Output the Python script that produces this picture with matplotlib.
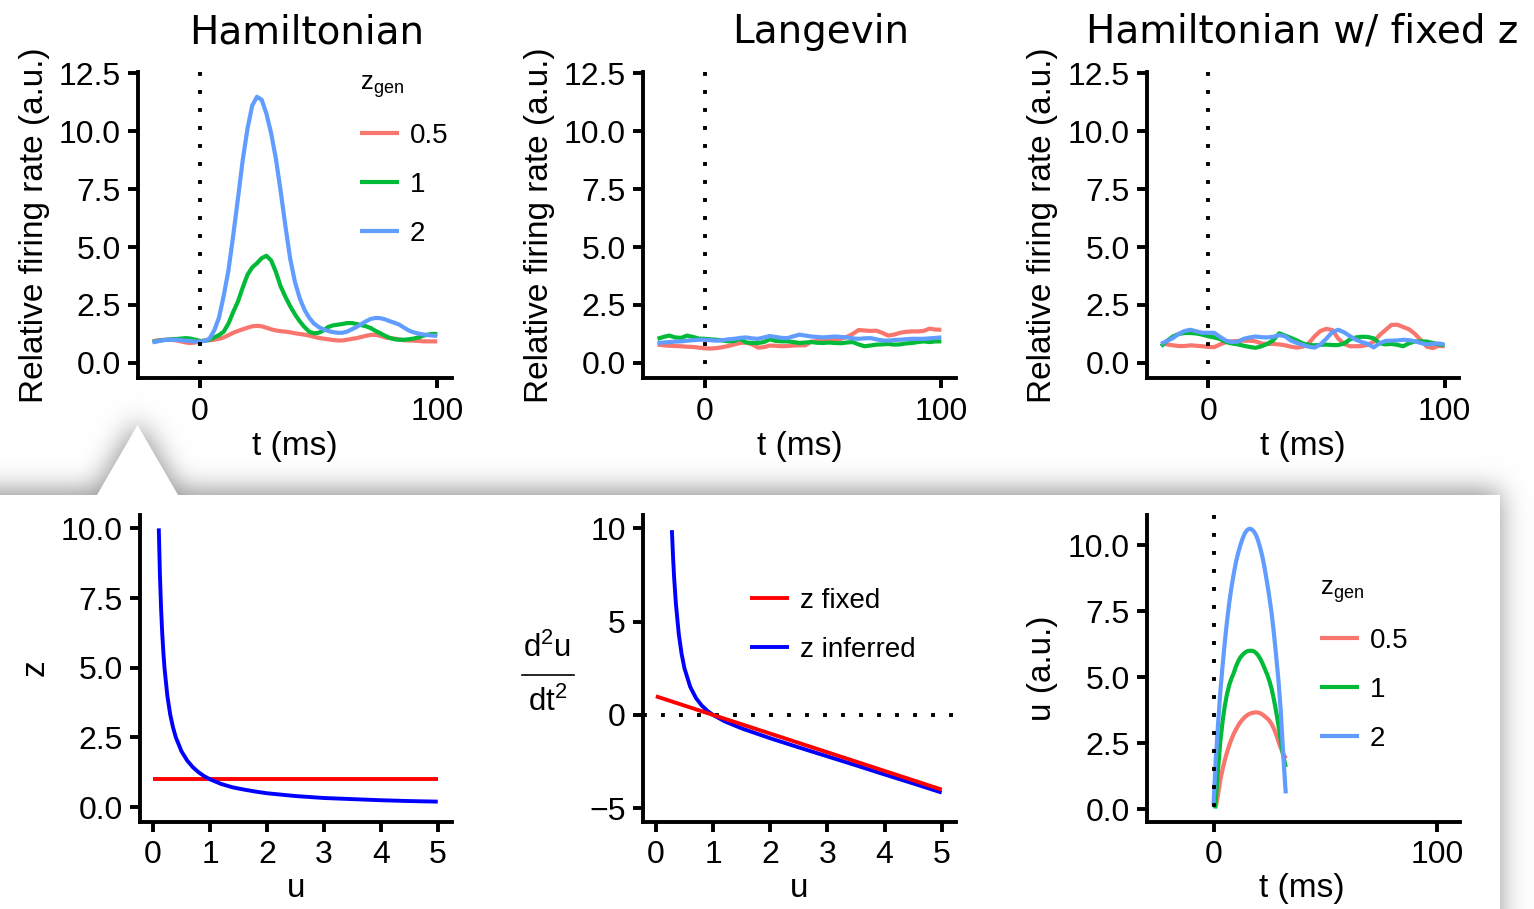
import numpy as np
import matplotlib
matplotlib.use("Agg")
import matplotlib.pyplot as plt
from matplotlib.lines import Line2D
from matplotlib.patches import Polygon

# ---------------------------------------------------------------- data
# Top row: relative firing rate, sampled every 2 ms (Hamiltonian)
t_ham = np.arange(-20, 101, 2)
ham_z05 = [0.93, 0.97, 0.99, 1.0, 1.0, 0.97, 0.93, 0.88, 0.86, 0.88,
           0.93, 0.97, 0.98, 1.0, 1.04, 1.1, 1.2, 1.3, 1.38, 1.45,
           1.52, 1.58, 1.6, 1.58, 1.52, 1.45, 1.4, 1.37, 1.35, 1.32,
           1.28, 1.25, 1.22, 1.18, 1.13, 1.08, 1.05, 1.02, 0.99, 0.97,
           0.97, 1.0, 1.04, 1.07, 1.12, 1.17, 1.21, 1.21, 1.17, 1.1,
           1.07, 1.05, 1.01, 0.98, 0.97, 0.96, 0.95, 0.93, 0.93, 0.93,
           0.93]
ham_z1 = [0.9, 0.95, 0.98, 1.0, 1.02, 1.03, 1.05, 1.07, 1.05, 1.0,
          0.95, 0.95, 1.0, 1.1, 1.2, 1.35, 1.7, 2.2, 2.65, 3.25,
          3.8, 4.12, 4.3, 4.52, 4.62, 4.42, 3.92, 3.3, 2.85, 2.45,
          2.1, 1.8, 1.55, 1.35, 1.28, 1.3, 1.4, 1.55, 1.62, 1.65,
          1.68, 1.72, 1.72, 1.68, 1.63, 1.58, 1.5, 1.38, 1.28, 1.17,
          1.08, 1.02, 1.0, 1.0, 1.02, 1.05, 1.1, 1.17, 1.22, 1.25,
          1.25]
ham_z2 = [0.89, 0.93, 0.97, 1.0, 1.0, 1.0, 0.98, 0.96, 0.94, 0.92,
          0.92, 0.95, 1.05, 1.4, 1.95, 2.9, 4.0, 5.5, 7.1, 8.75,
          10.1, 11.1, 11.48, 11.35, 10.75, 9.9, 8.8, 7.4, 5.9, 4.5,
          3.5, 2.8, 2.3, 1.95, 1.7, 1.55, 1.45, 1.38, 1.33, 1.3,
          1.3, 1.35, 1.45, 1.55, 1.68, 1.8, 1.9, 1.94, 1.93, 1.88,
          1.8, 1.73, 1.65, 1.52, 1.4, 1.32, 1.27, 1.23, 1.2, 1.18,
          1.17]

# Langevin and Hamiltonian with fixed z, sampled every 2.5 ms
t_noisy = np.arange(-20, 100.1, 2.5)
lang_z05 = [0.79, 0.76, 0.74, 0.73, 0.72, 0.70, 0.69, 0.66,
            0.63, 0.62, 0.64, 0.68, 0.73, 0.80, 0.86, 0.88,
            0.80, 0.66, 0.68, 0.75, 0.74, 0.72, 0.73, 0.75,
            0.76, 0.76, 0.92, 0.94, 0.96, 0.98, 1.00, 1.04,
            1.12, 1.25, 1.42, 1.40, 1.38, 1.39, 1.30, 1.18,
            1.22, 1.30, 1.34, 1.36, 1.36, 1.38, 1.48, 1.44,
            1.43]
lang_z1 = [1.04, 1.12, 1.18, 1.10, 1.08, 1.18, 1.12, 1.05,
           1.04, 1.02, 1.00, 0.97, 0.93, 0.95, 1.04, 0.88,
           0.86, 0.86, 0.90, 1.02, 0.95, 0.93, 0.93, 0.90,
           0.86, 0.88, 0.90, 0.87, 0.86, 0.88, 0.86, 0.85,
           0.88, 0.90, 0.80, 0.72, 0.75, 0.79, 0.80, 0.82,
           0.79, 0.80, 0.84, 0.86, 0.90, 0.93, 0.90, 0.93,
           0.93]
lang_z2 = [0.86, 0.88, 0.90, 0.92, 0.93, 0.96, 0.98, 1.00,
           1.00, 0.98, 0.96, 0.98, 1.02, 1.04, 1.08, 1.10,
           1.06, 1.04, 1.10, 1.16, 1.12, 1.08, 1.07, 1.15,
           1.22, 1.18, 1.14, 1.12, 1.10, 1.12, 1.14, 1.12,
           1.10, 1.06, 1.04, 1.06, 1.07, 1.02, 0.97, 0.96,
           0.99, 1.00, 1.02, 1.04, 1.04, 1.04, 1.06, 1.08,
           1.10]
fixz_z05 = [0.86, 0.80, 0.76, 0.73, 0.73, 0.76, 0.74, 0.72,
            0.69, 0.68, 0.80, 0.90, 0.93, 0.95, 0.96, 0.96,
            0.93, 0.84, 0.82, 0.82, 0.80, 0.76, 0.70, 0.66,
            0.70, 0.85, 1.15, 1.38, 1.47, 1.42, 1.05, 0.82,
            0.72, 0.72, 0.73, 0.78, 0.92, 1.20, 1.42, 1.64,
            1.65, 1.55, 1.45, 1.25, 0.98, 0.70, 0.64, 0.74,
            0.72]
fixz_z1 = [0.72, 0.95, 1.14, 1.25, 1.29, 1.29, 1.27, 1.22,
           1.15, 1.10, 1.03, 0.90, 0.84, 0.80, 0.74, 0.69,
           0.65, 0.72, 0.82, 0.98, 1.28, 1.18, 1.08, 0.97,
           0.84, 0.78, 0.76, 0.78, 0.79, 0.77, 0.77, 0.84,
           1.02, 1.10, 1.13, 1.12, 1.06, 0.85, 0.80, 0.82,
           0.78, 0.72, 0.85, 0.93, 0.93, 0.92, 0.86, 0.80,
           0.76]
fixz_z2 = [0.82, 0.95, 1.07, 1.25, 1.38, 1.43, 1.36, 1.30,
           1.30, 1.30, 1.12, 0.96, 0.90, 0.92, 1.04, 1.10,
           1.14, 1.11, 1.10, 1.13, 1.20, 1.15, 0.96, 0.86,
           0.78, 0.70, 0.66, 0.80, 1.05, 1.33, 1.43, 1.32,
           1.15, 1.00, 0.90, 0.82, 0.67, 0.85, 0.95, 0.96,
           0.97, 1.00, 0.98, 0.93, 0.86, 0.80, 0.82, 0.84,
           0.79]

# Bottom left: inferred z as a function of u, and fixed z
u_inf = [0.1, 0.12, 0.14, 0.16, 0.18, 0.2, 0.25, 0.3, 0.35, 0.4, 0.5, 0.6,
         0.7, 0.8, 0.9, 1.0, 1.2, 1.4, 1.6, 1.8, 2.0, 2.5, 3.0, 3.5, 4.0,
         4.5, 5.0]
z_inf = [10.0, 8.33, 7.14, 6.25, 5.56, 5.0, 4.0, 3.33, 2.86, 2.5, 2.0, 1.67,
         1.43, 1.25, 1.11, 1.0, 0.83, 0.71, 0.63, 0.56, 0.5, 0.4, 0.33, 0.29,
         0.25, 0.22, 0.2]
u_fix = [0.0, 5.0]
z_fix = [1.0, 1.0]

# Bottom middle: acceleration d2u/dt2 against u
acc_u_fix = [0.0, 5.0]
acc_fix = [1.0, -4.0]
acc_u_inf = [0.28, 0.3, 0.32, 0.35, 0.4, 0.45, 0.5, 0.6, 0.7, 0.8, 0.9, 1.0,
             1.2, 1.5, 2.0, 2.5, 3.0, 3.5, 4.0, 4.5, 5.0]
acc_inf = [9.9, 8.48, 7.32, 5.96, 4.35, 3.27, 2.5, 1.51, 0.91, 0.51, 0.22,
           0.0, -0.34, -0.72, -1.25, -1.74, -2.22, -2.70, -3.19, -3.67, -4.16]

# Bottom right: latent trajectories u(t)
traj_t_z05 = [1, 2, 3, 4, 5, 6, 7, 8, 9, 10, 11, 12, 13, 14, 15, 16, 17,
              18, 19, 20, 21, 22, 23, 24, 25, 26, 27, 28, 29, 30, 31, 32, 32.3]
traj_u_z05 = [0.1, 0.55, 1.1, 1.5, 1.85, 2.15, 2.42, 2.65, 2.85, 3.02, 3.17,
              3.3, 3.4, 3.49, 3.56, 3.61, 3.64, 3.66, 3.67, 3.66, 3.63, 3.58,
              3.51, 3.44, 3.35, 3.22, 3.05, 2.83, 2.57, 2.33, 2.13, 1.97, 1.92]
traj_t_z1 = [0.7, 1, 2, 3, 4, 5, 6, 7, 8, 9, 10, 11, 12, 13, 14, 15, 16, 17,
             18, 19, 20, 21, 22, 23, 24, 25, 26, 27, 28, 29, 30, 31, 32, 32.3]
traj_u_z1 = [0.03, 0.35, 1.5, 2.55, 3.3, 3.9, 4.35, 4.7, 4.95, 5.15, 5.4,
             5.6, 5.75, 5.85, 5.93, 5.98, 6.0, 6.0, 5.98, 5.92, 5.82, 5.68,
             5.5, 5.3, 5.1, 4.85, 4.55, 4.15, 3.7, 3.2, 2.65, 2.1, 1.7, 1.6]
traj_t_z2 = [0, 1, 2, 3, 4, 5, 6, 7, 8, 9, 10, 11, 12, 13, 14, 15, 16, 17,
             18, 19, 20, 21, 22, 23, 24, 25, 26, 27, 28, 29, 30, 31, 32, 32.3]
traj_u_z2 = [0.15, 1.9, 3.2, 4.4, 5.4, 6.3, 7.1, 7.8, 8.4, 8.9, 9.35, 9.7,
             10.0, 10.25, 10.45, 10.57, 10.62, 10.6, 10.52, 10.38, 10.15,
             9.85, 9.5, 9.05, 8.55, 8.0, 7.4, 6.65, 5.8, 4.9, 3.8, 2.3, 0.95,
             0.6]

zgen_labels = ["0.5", "1", "2"]
zgen_colors = ["#F8766D", "#00BA38", "#619CFF"]

# ---------------------------------------------------------------- style
W, H, DPI = 1534, 909, 100
plt.rcParams["font.family"] = ["Liberation Sans", "DejaVu Sans"]
plt.rcParams["mathtext.fontset"] = "custom"
plt.rcParams["mathtext.rm"] = "Liberation Sans"
plt.rcParams["axes.unicode_minus"] = True

TICK_FS = 23
LABEL_FS = 24
LEG_FS = 20
LW_AX = 2.8
LW_DATA = 3.0
LW_DOT = 2.8
DOT = (0, (1, 3.63))

fig = plt.figure(figsize=(W / DPI, H / DPI), dpi=DPI)
fig.patch.set_facecolor("white")


def fx(x):
    return x / W


def fy(y):
    return 1 - y / H


# ---------------------------------------------------------------- callout box with soft shadow
BOX_TOP, BOX_RIGHT = 495, 1500
APEX_X, APEX_Y, TRI_HALF = 137.5, 425, 40.5


def callout_shadow(sigma=13, lift=5):
    pad = 80
    yy, xx = np.mgrid[0:H + 2 * pad, 0:W + 2 * pad]
    x = xx - pad + 0.5
    y = yy - pad + 0.5 + lift
    box = (y >= BOX_TOP) & (x <= BOX_RIGHT)
    half = (y - APEX_Y) / (BOX_TOP - APEX_Y) * TRI_HALF
    tri = (y >= APEX_Y) & (y < BOX_TOP) & (np.abs(x - APEX_X) <= half)
    m = (box | tri).astype(float)
    k = np.arange(-3 * sigma, 3 * sigma + 1)
    g = np.exp(-0.5 * (k / sigma) ** 2)
    g /= g.sum()
    m = np.apply_along_axis(lambda r: np.convolve(r, g, mode="same"), 1, m)
    m = np.apply_along_axis(lambda c: np.convolve(c, g, mode="same"), 0, m)
    return m[pad:pad + H, pad:pad + W]


bg = fig.add_axes([0, 0, 1, 1], zorder=0)
bg.set_axis_off()
shade = 1 - 0.42 * callout_shadow()
bg.imshow(np.dstack([shade, shade, shade]), extent=(0, W, H, 0),
          interpolation="bilinear", aspect="auto")
box_verts = [(-20, H + 20), (-20, BOX_TOP), (APEX_X - TRI_HALF, BOX_TOP),
             (APEX_X, APEX_Y), (APEX_X + TRI_HALF, BOX_TOP),
             (BOX_RIGHT, BOX_TOP), (BOX_RIGHT, H + 20)]
bg.add_patch(Polygon(box_verts, closed=True, facecolor="white",
                     edgecolor="none"))
bg.set_xlim(0, W)
bg.set_ylim(H, 0)


# ---------------------------------------------------------------- helpers
def make_axes(l, r, t, b):
    ax = fig.add_axes([l / W, 1 - b / H, (r - l) / W, (b - t) / H], zorder=2)
    ax.set_facecolor("none")
    for s in ("top", "right"):
        ax.spines[s].set_visible(False)
    for s in ("left", "bottom"):
        ax.spines[s].set_linewidth(LW_AX)
        ax.spines[s].set_capstyle("projecting")
    ax.tick_params(direction="out", length=7.5, width=LW_AX, color="black",
                   labelsize=TICK_FS, labelcolor="black")
    ax.tick_params(axis="y", pad=5)
    ax.tick_params(axis="x", pad=6)
    return ax


def vdots(ax, x):
    ax.plot([x, x], [1, 0], transform=ax.get_xaxis_transform(),
            color="black", lw=LW_DOT, linestyle=DOT, zorder=5, clip_on=False)


def zgen_legend(ax, lines, x, y):
    ax.legend(lines, zgen_labels, title=r"$\mathregular{z_{gen}}$",
              loc="upper left", bbox_to_anchor=(fx(x), fy(y)),
              bbox_transform=fig.transFigure, frameon=False,
              fontsize=LEG_FS, title_fontsize=18.5, handlelength=1.4,
              handletextpad=0.4, labelspacing=0.82, borderpad=0,
              borderaxespad=0, alignment="left")


top_boxes = [(138.3, 452, 72, 378), (643.3, 956, 72, 378),
             (1146.9, 1459.2, 72, 378)]
top_series = [(t_ham, [ham_z05, ham_z1, ham_z2]),
              (t_noisy, [lang_z05, lang_z1, lang_z2]),
              (t_noisy, [fixz_z05, fixz_z1, fixz_z2])]
titles = [("Hamiltonian", 307), ("Langevin", 821),
          ("Hamiltonian w/ fixed z", 1302)]

for i, (box, (tt, series), (title, tx)) in enumerate(zip(top_boxes,
                                                         top_series, titles)):
    ax = make_axes(*box)
    lines = []
    for vals, col in zip(series, zgen_colors):
        ln, = ax.plot(tt, vals, color=col, lw=LW_DATA, solid_capstyle="butt",
                      solid_joinstyle="round")
        lines.append(ln)
    vdots(ax, 0)
    ax.set_xlim(-26, 106.2)
    ax.set_ylim(-0.65, 12.55)
    ax.set_xticks([0, 100])
    ax.set_yticks([0, 2.5, 5, 7.5, 10, 12.5])
    ax.set_yticklabels(["0.0", "2.5", "5.0", "7.5", "10.0", "12.5"])
    l, r, t, b = box
    fig.text(fx(l - 104), fy((t + b) / 2), "Relative firing rate (a.u.)",
             rotation=90, ha="center", va="center", fontsize=LABEL_FS)
    fig.text(fx((l + r) / 2), fy(455), "t (ms)", ha="center",
             va="baseline", fontsize=LABEL_FS)
    fig.text(fx(tx), fy(43), title, ha="center", va="baseline",
             fontsize=28, family="DejaVu Sans")
    if i == 0:
        zgen_legend(ax, lines, 360, 71)

# ---------------------------------------------------------------- bottom left: z(u)
ax4 = make_axes(140, 452, 515, 821.7)
ax4.plot(u_fix, z_fix, color="#FF0000", lw=2.8, solid_capstyle="butt")
ax4.plot(u_inf, z_inf, color="#0000FF", lw=2.8, solid_capstyle="butt")
ax4.set_xlim(-0.23, 5.25)
ax4.set_ylim(-0.52, 10.48)
ax4.set_xticks([0, 1, 2, 3, 4, 5])
ax4.set_yticks([0, 2.5, 5, 7.5, 10])
ax4.set_yticklabels(["0.0", "2.5", "5.0", "7.5", "10.0"])
fig.text(fx(35), fy(668), "z", rotation=90, ha="center", va="center",
         fontsize=LABEL_FS)
fig.text(fx(296), fy(897), "u", ha="center", va="baseline",
         fontsize=LABEL_FS)

# ---------------------------------------------------------------- bottom middle: acceleration
ax5 = make_axes(643.3, 956, 515, 821.7)
ax5.axhline(0, color="black", lw=LW_DOT, linestyle=DOT, zorder=1)
lf, = ax5.plot(acc_u_fix, acc_fix, color="#FF0000", lw=2.8,
               solid_capstyle="butt", zorder=3)
li, = ax5.plot(acc_u_inf, acc_inf, color="#0000FF", lw=2.8,
               solid_capstyle="butt", zorder=2)
ax5.set_xlim(-0.22, 5.25)
ax5.set_ylim(-5.72, 10.71)
ax5.set_xticks([0, 1, 2, 3, 4, 5])
ax5.set_yticks([-5, 0, 5, 10])
ax5.legend([lf, li], ["z fixed", "z inferred"], loc="upper left",
           bbox_to_anchor=(fx(750), fy(588)), bbox_transform=fig.transFigure,
           frameon=False, fontsize=LEG_FS, handlelength=1.4,
           handletextpad=0.4, labelspacing=0.82, borderpad=0,
           borderaxespad=0)
fig.text(fx(547), fy(657), r"d$^{\mathregular{2}}$u", ha="center",
         va="baseline", fontsize=22.5)
fig.text(fx(548), fy(711), r"dt$^{\mathregular{2}}$", ha="center",
         va="baseline", fontsize=22.5)
fig.add_artist(Line2D([fx(522), fx(574)], [fy(675), fy(675)], color="black",
                      lw=1.2))
fig.text(fx(799), fy(897), "u", ha="center", va="baseline",
         fontsize=LABEL_FS)

# ---------------------------------------------------------------- bottom right: u(t)
ax6 = make_axes(1146.9, 1460, 515, 821.7)
traj = [(traj_t_z05, traj_u_z05), (traj_t_z1, traj_u_z1),
        (traj_t_z2, traj_u_z2)]
lines6 = []
for (tt, uu), col in zip(traj, zgen_colors):
    ln, = ax6.plot(tt, uu, color=col, lw=3.0, solid_capstyle="butt")
    lines6.append(ln)
vdots(ax6, 0)
ax6.set_xlim(-29.8, 110.2)
ax6.set_ylim(-0.47, 11.14)
ax6.set_xticks([0, 100])
ax6.set_yticks([0, 2.5, 5, 7.5, 10])
ax6.set_yticklabels(["0.0", "2.5", "5.0", "7.5", "10.0"])
zgen_legend(ax6, lines6, 1320, 576)
fig.text(fx(1042), fy(668), "u (a.u.)", rotation=90, ha="center",
         va="center", fontsize=LABEL_FS)
fig.text(fx(1302), fy(897), "t (ms)", ha="center", va="baseline",
         fontsize=LABEL_FS)

fig.savefig("out.png", dpi=DPI, facecolor="white")
